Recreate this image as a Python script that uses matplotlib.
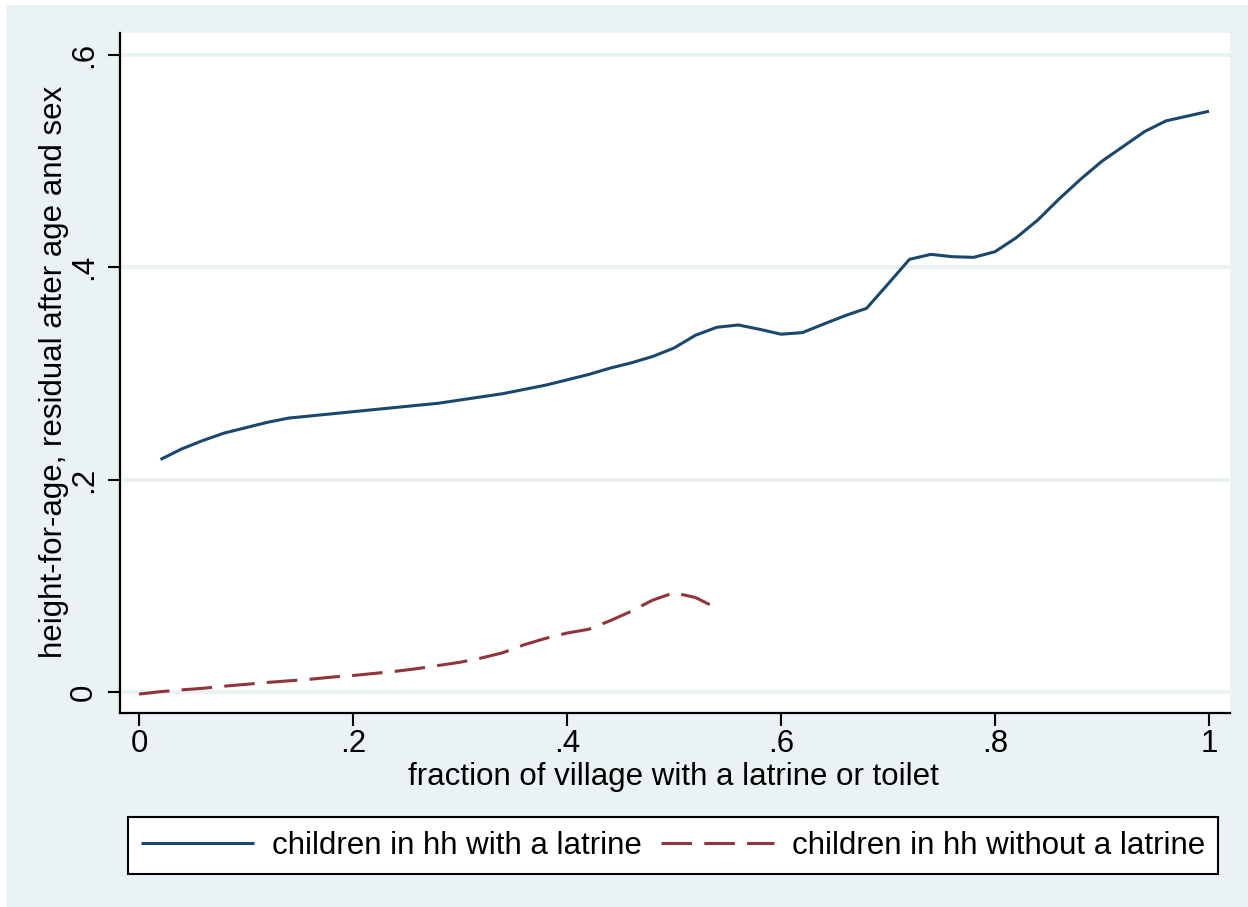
"""
Grafico de altura para la edad vs fraccion de la aldea con letrina.
"""
import matplotlib
matplotlib.use("Agg")
import matplotlib.pyplot as plt
from matplotlib.patches import Rectangle

# Datos
x_latrine = [0.02, 0.04, 0.06, 0.08, 0.10, 0.12, 0.14, 0.16, 0.18, 0.20,
             0.22, 0.24, 0.26, 0.28, 0.30, 0.32, 0.34, 0.36, 0.38, 0.40,
             0.42, 0.44, 0.46, 0.48, 0.50, 0.52, 0.54, 0.56, 0.58, 0.60,
             0.62, 0.64, 0.66, 0.68, 0.70, 0.72, 0.74, 0.76, 0.78, 0.80,
             0.82, 0.84, 0.86, 0.88, 0.90, 0.92, 0.94, 0.96, 0.98, 1.00]
y_latrine = [0.219, 0.229, 0.237, 0.244, 0.249, 0.254, 0.258, 0.260, 0.262, 0.264,
             0.266, 0.268, 0.270, 0.272, 0.275, 0.278, 0.281, 0.285, 0.289, 0.294,
             0.299, 0.305, 0.310, 0.316, 0.324, 0.336, 0.3435, 0.3457, 0.3416, 0.337,
             0.3385, 0.3466, 0.3545, 0.3614, 0.3843, 0.4075, 0.4122, 0.410, 0.4094, 0.4147,
             0.428, 0.4446, 0.4645, 0.483, 0.500, 0.514, 0.528, 0.538, 0.5425, 0.547]

x_no_latrine = [0.00, 0.02, 0.04, 0.06, 0.08, 0.10, 0.12, 0.14, 0.16, 0.18,
                0.20, 0.22, 0.24, 0.26, 0.28, 0.30, 0.32, 0.34, 0.36, 0.38,
                0.40, 0.42, 0.44, 0.46, 0.48, 0.50, 0.52, 0.54]
y_no_latrine = [-0.002, 0.0003, 0.002, 0.0035, 0.0055, 0.0072, 0.009, 0.0105, 0.012, 0.014,
                0.0155, 0.0175, 0.0195, 0.022, 0.025, 0.028, 0.032, 0.037, 0.0445, 0.0505,
                0.0555, 0.059, 0.067, 0.076, 0.0865, 0.0935, 0.089, 0.079]

x_ticks = [0, 0.2, 0.4, 0.6, 0.8, 1.0]
x_tick_labels = ["0", ".2", ".4", ".6", ".8", "1"]
y_ticks = [0, 0.2, 0.4, 0.6]
y_tick_labels = ["0", ".2", ".4", ".6"]
legend_labels = ["children in hh with a latrine", "children in hh without a latrine"]

# Colores estilo Stata s2color
NAVY = "#1a476f"
MAROON = "#90353b"
BG = "#eaf2f3"
FS = 22.5

plt.rcParams["font.family"] = ["Liberation Sans", "DejaVu Sans"]

fig = plt.figure(figsize=(12.48, 9.07), dpi=100)
fig.patch.set_facecolor("white")
# fondo gris azulado (borde blanco solo arriba e izquierda)
fig.patches.append(Rectangle((6 / 1248, 0), 1242 / 1248, 902 / 907,
                             transform=fig.transFigure, facecolor=BG,
                             edgecolor="none", zorder=-10))

ax = fig.add_axes([120 / 1248, 194 / 907, 1110 / 1248, 680 / 907])
ax.set_facecolor("white")

line1, = ax.plot(x_latrine, y_latrine, color=NAVY, linewidth=2.2,
                 solid_capstyle="butt")
line2, = ax.plot(x_no_latrine, y_no_latrine, color=MAROON, linewidth=2.2,
                 dashes=(10, 4), dash_capstyle="butt")

ax.set_xlim(-0.0178, 1.0196)
ax.set_ylim(-0.0198, 0.6207)

ax.set_xticks(x_ticks)
ax.set_xticklabels(x_tick_labels)
ax.set_yticks(y_ticks)
ax.set_yticklabels(y_tick_labels, rotation=90, va="center")

ax.tick_params(axis="both", direction="out", length=9, width=1.5,
               labelsize=FS, colors="black")
ax.tick_params(axis="x", pad=2.5)
ax.tick_params(axis="y", pad=6)

ax.grid(axis="y", color=BG, linewidth=2.8)
ax.set_axisbelow(True)

ax.spines["top"].set_visible(False)
ax.spines["right"].set_visible(False)
ax.spines["left"].set_linewidth(1.6)
ax.spines["bottom"].set_linewidth(1.6)

ax.set_xlabel("fraction of village with a latrine or toilet", fontsize=FS)
ax.set_ylabel("height-for-age, residual after age and sex", fontsize=FS)
ax.xaxis.set_label_coords(0.499, -0.0715)
ax.yaxis.set_label_coords(-0.046, 0.5015)

leg = fig.legend([line1, line2], legend_labels, ncol=2, loc="center",
                 bbox_to_anchor=(128 / 1248, 31 / 907, 1090 / 1248, 61 / 907),
                 mode="expand", fontsize=FS, handlelength=3.6,
                 handletextpad=0.58, columnspacing=0.5, borderpad=0.42,
                 borderaxespad=0, fancybox=False, framealpha=1)
leg.get_frame().set_edgecolor("black")
leg.get_frame().set_linewidth(1.5)

fig.savefig("out.png", dpi=100)
